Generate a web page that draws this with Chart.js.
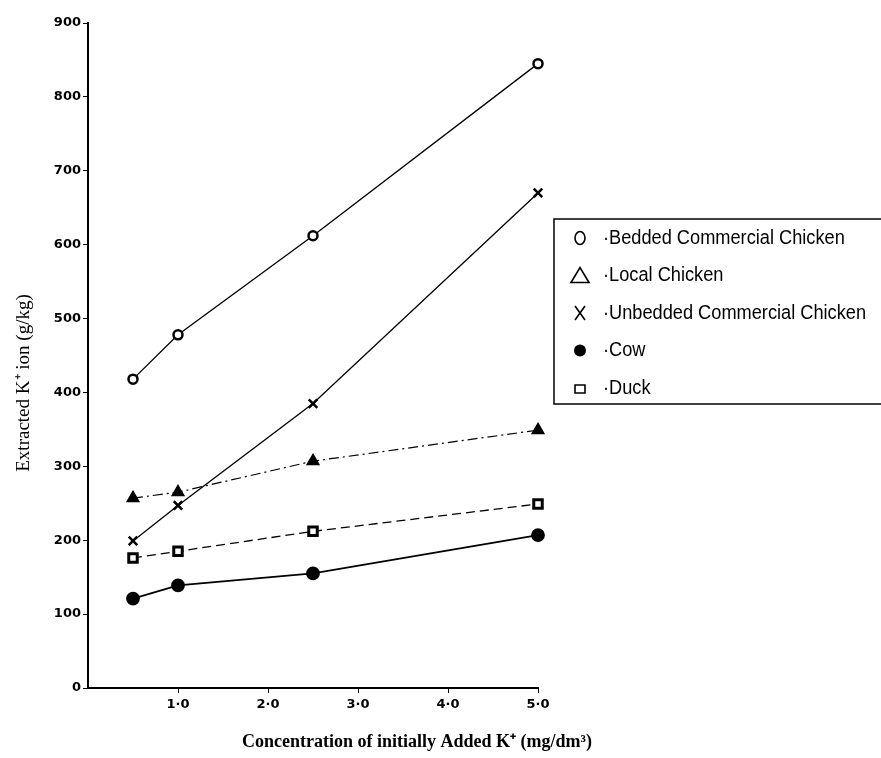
<!DOCTYPE html>
<html>
<head>
<meta charset="utf-8">
<script src="https://cdn.jsdelivr.net/npm/chart.js@4"></script>
<style>
  body { margin: 0; background: #fff; }
  canvas { display: block; }
</style>
</head>
<body>
<canvas id="kChart" width="881" height="758"></canvas>
<script>
// concentration of added K+ (mg/dm3)
const concentrations = [0.5, 1.0, 2.5, 5.0];

// extracted K+ ion (g/kg)
const bedded = [418, 478, 612, 845];
const localChicken = [257, 265, 307, 349];
const unbedded = [199, 247, 385, 670];
const cow = [121, 139, 155, 207];
const duck = [176, 185, 212, 249];

const seriesNames = [
    "Bedded Commercial Chicken",
    "Local Chicken",
    "Unbedded Commercial Chicken",
    "Cow",
    "Duck"
];

const xTicks = [1, 2, 3, 4, 5];
const yTicks = [0, 100, 200, 300, 400, 500, 600, 700, 800, 900];

const xTitle = "Concentration of initially Added K\u207A (mg/dm\u00B3)";
const yTitle = "Extracted K\u207A ion (g/kg)";

function points(values) {
    return values.map((v, i) => ({ x: concentrations[i], y: v }));
}

// white page + axis titles
const pagePlugin = {
    id: "page",
    beforeDraw(chart) {
        const c = chart.ctx;
        c.save();
        c.fillStyle = "#fff";
        c.fillRect(0, 0, chart.width, chart.height);
        c.restore();
    },
    afterDraw(chart) {
        const c = chart.ctx;
        c.save();
        c.fillStyle = "#000";
        c.textAlign = "center";
        c.textBaseline = "middle";
        c.font = "bold 18px 'Liberation Serif'";
        c.fillText(xTitle, 417, 742);
        c.translate(24, 383);
        c.rotate(-Math.PI / 2);
        c.font = "19px 'Liberation Serif'";
        c.fillText(yTitle, 0, 0);
        c.restore();
    }
};

// boxed legend on the right, like the scanned figure
function drawSymbol(c, i, x, y) {
    c.strokeStyle = "#000";
    c.fillStyle = "#000";
    c.lineWidth = 1.6;
    c.beginPath();
    if (i === 0) {
        c.ellipse(x, y, 5, 6.5, 0, 0, Math.PI * 2);
        c.stroke();
    } else if (i === 1) {
        c.moveTo(x - 9, y + 7);
        c.lineTo(x + 9, y + 7);
        c.lineTo(x, y - 8);
        c.closePath();
        c.stroke();
    } else if (i === 2) {
        c.moveTo(x - 5, y - 7);
        c.lineTo(x + 5, y + 7);
        c.moveTo(x + 5, y - 7);
        c.lineTo(x - 5, y + 7);
        c.stroke();
    } else if (i === 3) {
        c.arc(x, y, 6, 0, Math.PI * 2);
        c.fill();
    } else {
        c.rect(x - 5, y - 3, 10, 8);
        c.stroke();
    }
}

const legendPlugin = {
    id: "boxLegend",
    afterDraw(chart) {
        const c = chart.ctx;
        c.save();
        c.strokeStyle = "#000";
        c.lineWidth = 1.5;
        c.strokeRect(554, 219, 340, 185);
        c.font = "20px 'Liberation Sans'";
        c.textBaseline = "middle";
        c.textAlign = "left";
        seriesNames.forEach((name, i) => {
            const y = 238 + i * 37.5;
            drawSymbol(c, i, 580, y);
            // squeeze the text a little, the scan uses a narrow face
            c.save();
            c.translate(603, y);
            c.scale(0.91, 1);
            c.fillStyle = "#000";
            c.fillText("\u00B7" + name, 0, 0);
            c.restore();
        });
        c.restore();
    }
};

const ctx = document.getElementById("kChart").getContext("2d");

const chart = new Chart(ctx, {
    type: "scatter",
    data: {
        datasets: [
            {
                label: seriesNames[0],
                data: points(bedded),
                showLine: true,
                borderColor: "#000",
                borderWidth: 1.3,
                pointStyle: "circle",
                pointRadius: 4.5,
                pointBorderWidth: 2.5,
                pointBackgroundColor: "#fff",
                pointBorderColor: "#000",
                clip: false
            },
            {
                label: seriesNames[1],
                data: points(localChicken),
                showLine: true,
                borderColor: "#000",
                borderWidth: 1.2,
                borderDash: [10, 4, 2, 4],
                pointStyle: "triangle",
                pointRadius: 7,
                pointBackgroundColor: "#000",
                pointBorderColor: "#000",
                clip: false
            },
            {
                label: seriesNames[2],
                data: points(unbedded),
                showLine: true,
                borderColor: "#000",
                borderWidth: 1.3,
                pointStyle: "crossRot",
                pointRadius: 6,
                pointBorderWidth: 2.5,
                pointBorderColor: "#000",
                clip: false
            },
            {
                label: seriesNames[3],
                data: points(cow),
                showLine: true,
                borderColor: "#000",
                borderWidth: 1.8,
                pointStyle: "circle",
                pointRadius: 6,
                pointBackgroundColor: "#000",
                pointBorderColor: "#000",
                clip: false
            },
            {
                label: seriesNames[4],
                data: points(duck),
                showLine: true,
                borderColor: "#000",
                borderWidth: 1.3,
                borderDash: [9, 5],
                pointStyle: "rect",
                pointRadius: 6,
                pointBorderWidth: 3,
                pointBackgroundColor: "#fff",
                pointBorderColor: "#000",
                clip: false
            }
        ]
    },
    options: {
        responsive: false,
        animation: false,
        layout: {
            padding: { top: 23, right: 343, left: 0, bottom: 0 }
        },
        plugins: {
            legend: { display: false },
            tooltip: { enabled: false }
        },
        scales: {
            x: {
                type: "linear",
                min: 0,
                max: 5,
                afterBuildTicks: scale => {
                    scale.ticks = xTicks.map(v => ({ value: v }));
                },
                afterFit: scale => { scale.height = 70; },
                ticks: {
                    color: "#000",
                    padding: 4,
                    font: { family: "'DejaVu Sans'", size: 13, weight: "bold" },
                    callback: v => v.toFixed(1).replace(".", "\u00B7")
                },
                grid: {
                    drawOnChartArea: false,
                    color: "#000",
                    tickLength: 5
                },
                border: { color: "#000", width: 2 }
            },
            y: {
                min: 0,
                max: 900,
                afterBuildTicks: scale => {
                    scale.ticks = yTicks.map(v => ({ value: v }));
                },
                afterFit: scale => { scale.width = 88; },
                ticks: {
                    color: "#000",
                    padding: 2,
                    font: { family: "'DejaVu Sans'", size: 13, weight: "bold" }
                },
                grid: {
                    drawOnChartArea: false,
                    color: "#000",
                    tickLength: 5
                },
                border: { color: "#000", width: 2 }
            }
        }
    },
    plugins: [pagePlugin, legendPlugin]
});
</script>
</body>
</html>
